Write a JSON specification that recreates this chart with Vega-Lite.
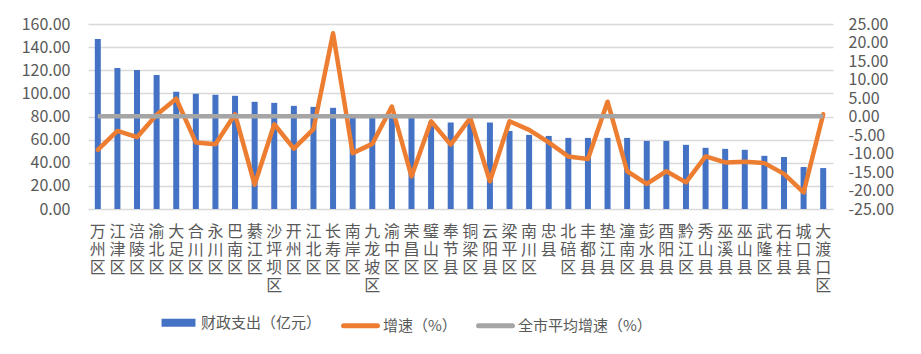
{
  "$schema": "https://vega.github.io/schema/vega-lite/v6.json",
  "width": 745,
  "height": 185,
  "autosize": {"type": "none"},
  "padding": {"left": 88, "top": 24, "right": 88, "bottom": 145},
  "background": "white",
  "config": {
    "view": {"stroke": null},
    "font": "Noto Sans CJK SC",
    "axis": {"labelFont": "Noto Sans CJK SC", "labelColor": "#595959", "labelFontSize": 16, "title": null, "ticks": false, "domain": false, "labelOverlap": false}
  },
  "data": {
    "values": [
      {"name": "万州区", "spend": 147.1, "growth": -9.0, "avg": 0.1},
      {"name": "江津区", "spend": 122.0, "growth": -3.9, "avg": 0.1},
      {"name": "涪陵区", "spend": 120.3, "growth": -5.6, "avg": 0.1},
      {"name": "渝北区", "spend": 116.0, "growth": 0.5, "avg": 0.1},
      {"name": "大足区", "spend": 101.4, "growth": 4.8, "avg": 0.1},
      {"name": "合川区", "spend": 99.7, "growth": -7.0, "avg": 0.1},
      {"name": "永川区", "spend": 98.8, "growth": -7.5, "avg": 0.1},
      {"name": "巴南区", "spend": 97.9, "growth": 0.6, "avg": 0.1},
      {"name": "綦江区", "spend": 92.7, "growth": -18.4, "avg": 0.1},
      {"name": "沙坪坝区", "spend": 91.8, "growth": -2.1, "avg": 0.1},
      {"name": "开州区", "spend": 89.2, "growth": -8.7, "avg": 0.1},
      {"name": "江北区", "spend": 88.3, "growth": -3.4, "avg": 0.1},
      {"name": "长寿区", "spend": 87.5, "growth": 22.5, "avg": 0.1},
      {"name": "南岸区", "spend": 80.8, "growth": -9.9, "avg": 0.1},
      {"name": "九龙坡区", "spend": 80.2, "growth": -7.4, "avg": 0.1},
      {"name": "渝中区", "spend": 79.6, "growth": 2.7, "avg": 0.1},
      {"name": "荣昌区", "spend": 79.0, "growth": -16.2, "avg": 0.1},
      {"name": "璧山区", "spend": 75.4, "growth": -1.3, "avg": 0.1},
      {"name": "奉节县", "spend": 74.8, "growth": -7.6, "avg": 0.1},
      {"name": "铜梁区", "spend": 74.8, "growth": -0.4, "avg": 0.1},
      {"name": "云阳县", "spend": 74.8, "growth": -17.5, "avg": 0.1},
      {"name": "梁平区", "spend": 67.5, "growth": -1.3, "avg": 0.1},
      {"name": "南川区", "spend": 64.1, "growth": -3.6, "avg": 0.1},
      {"name": "忠县", "spend": 63.2, "growth": -7.0, "avg": 0.1},
      {"name": "北碚区", "spend": 61.5, "growth": -10.8, "avg": 0.1},
      {"name": "丰都县", "spend": 61.5, "growth": -11.5, "avg": 0.1},
      {"name": "垫江县", "spend": 61.5, "growth": 4.0, "avg": 0.1},
      {"name": "潼南区", "spend": 61.5, "growth": -14.8, "avg": 0.1},
      {"name": "彭水县", "spend": 58.9, "growth": -18.2, "avg": 0.1},
      {"name": "酉阳县", "spend": 58.9, "growth": -14.8, "avg": 0.1},
      {"name": "黔江区", "spend": 55.5, "growth": -17.8, "avg": 0.1},
      {"name": "秀山县", "spend": 52.9, "growth": -10.8, "avg": 0.1},
      {"name": "巫溪县", "spend": 52.0, "growth": -12.4, "avg": 0.1},
      {"name": "巫山县", "spend": 51.2, "growth": -12.2, "avg": 0.1},
      {"name": "武隆区", "spend": 46.0, "growth": -12.6, "avg": 0.1},
      {"name": "石柱县", "spend": 45.0, "growth": -15.5, "avg": 0.1},
      {"name": "城口县", "spend": 36.3, "growth": -20.5, "avg": 0.1},
      {"name": "大渡口区", "spend": 35.4, "growth": 0.6, "avg": 0.1}
    ]
  },
  "encoding": {
    "x": {
      "field": "name",
      "type": "nominal",
      "sort": null,
      "scale": {"paddingInner": 0, "paddingOuter": 0},
      "axis": {
        "labelAngle": 0,
        "labelExpr": "datum.label == '忠县' ? ['忠', ' ', '县'] : split(datum.label, '')",
        "labelLineHeight": 18.3,
        "labelBaseline": "top",
        "labelPadding": 14,
        "labelOverlap": false,
        "labelBound": false,
        "labelFontSize": 16
      }
    }
  },
  "layer": [
    {
      "mark": {"type": "bar", "size": 6, "color": "#4472C4"},
      "encoding": {
        "y": {
          "field": "spend",
          "type": "quantitative",
          "scale": {"domain": [0, 160], "nice": false},
          "axis": {
            "orient": "left",
            "values": [0, 20, 40, 60, 80, 100, 120, 140, 160],
            "format": ".2f",
            "grid": true,
            "gridColor": "#d9d9d9",
            "gridWidth": 1.5,
            "labelPadding": 18,
            "labelOverlap": false
          }
        },
        "color": {
          "datum": "财政支出（亿元）",
          "type": "nominal",
          "scale": {
            "domain": ["财政支出（亿元）", "增速（%）", "全市平均增速（%）"],
            "range": ["#4472C4", "#ED7D31", "#A5A5A5"]
          },
          "legend": {
            "orient": "none",
            "legendX": 83,
            "legendY": 291,
            "direction": "horizontal",
            "title": null,
            "symbolType": "stroke",
            "symbolSize": 1150,
            "symbolStrokeWidth": 5,
            "labelFont": "Noto Sans CJK SC",
            "labelFontSize": 15,
            "labelColor": "#595959",
            "labelOffset": 15,
            "columnPadding": 11,
            "encode": {
              "symbols": {
                "update": {
                  "stroke": {"scale": "color", "field": "value"},
                  "strokeWidth": {"signal": "datum.value === '财政支出（亿元）' ? 8 : 5"},
                  "strokeCap": {"signal": "datum.value === '财政支出（亿元）' ? 'butt' : 'round'"}
                }
              }
            }
          }
        }
      }
    },
    {
      "mark": {"type": "line", "color": "#ED7D31", "strokeWidth": 4.5, "strokeCap": "round", "strokeJoin": "round"},
      "encoding": {
        "y": {
          "field": "growth",
          "type": "quantitative",
          "scale": {"domain": [-25, 25], "nice": false},
          "axis": {
            "orient": "right",
            "values": [-25, -20, -15, -10, -5, 0, 5, 10, 15, 20, 25],
            "labelExpr": "replace(format(datum.value, '.2f'), '−', '-')",
            "grid": false,
            "labelPadding": 15,
            "labelOverlap": false,
            "labelFontSize": 16
          }
        },
        "color": {"datum": "增速（%）", "type": "nominal"}
      }
    },
    {
      "mark": {"type": "line", "color": "#A5A5A5", "strokeWidth": 4.5},
      "encoding": {
        "y": {"field": "avg", "type": "quantitative", "scale": {"domain": [-25, 25], "nice": false}, "axis": null},
        "color": {"datum": "全市平均增速（%）", "type": "nominal"}
      }
    }
  ],
  "resolve": {"scale": {"y": "independent"}}
}
